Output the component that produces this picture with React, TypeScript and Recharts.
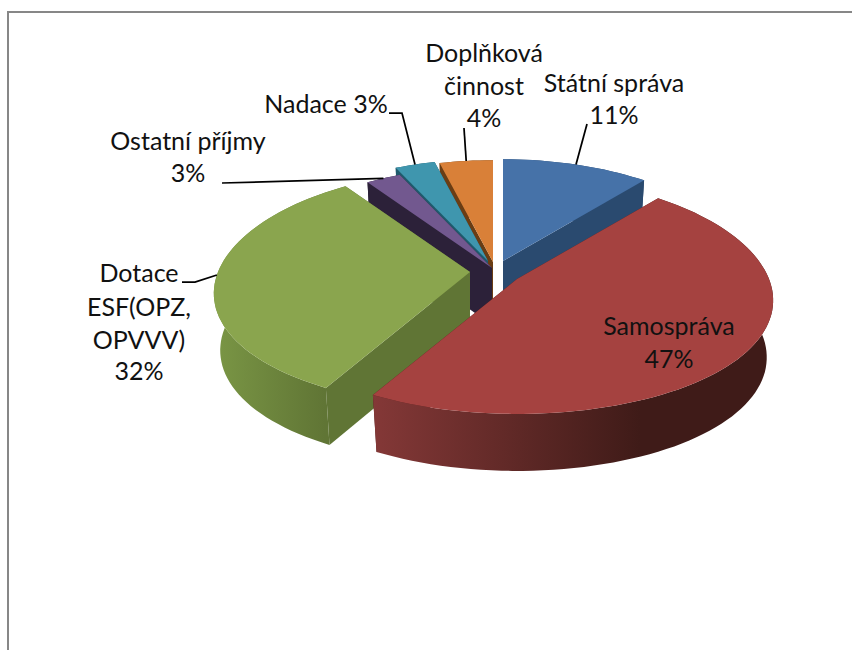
import React from 'react';
import { PieChart, Pie } from 'recharts';

// share of income per source, clockwise from 12 o'clock
const names = ['Státní správa', 'Samospráva', 'Dotace ESF(OPZ, OPVVV)', 'Ostatní příjmy', 'Nadace', 'Doplňková činnost'];
const shares = [11, 47, 32.4, 2.6, 3, 4];

const labelLines = [
  ['Státní správa', '11%'],
  ['Samospráva', '47%'],
  ['Dotace', 'ESF(OPZ,', 'OPVVV)', '32%'],
  ['Ostatní příjmy', '3%'],
  ['Nadace 3%'],
  ['Doplňková', 'činnost', '4%'],
];

const rows = names.map((name, i) => ({ name, value: shares[i] }));

const TOP = ['#4672a8', '#a54240', '#8aa54e', '#72588f', '#3f96ae', '#d98038'];
const WALL = ['#2a4a6f', '#4a1d1a', '#607535', '#2c2139', '#1f5a6c', '#6a3d14'];
const RIM_FROM = ['#2a4a6f', '#843837', '#7a9645', '#2c2139', '#1f5a6c', '#6a3d14'];
const RIM_TO = ['#2a4a6f', '#3f1b18', '#607535', '#2c2139', '#1f5a6c', '#6a3d14'];

// back to front
const PAINT_ORDER = [0, 5, 4, 3, 2, 1];

// projection of the tilted disc
const CX = 493;
const CY = 268;
const RX = 252;
const RY = 116;
const PERSP_X = 0.18;
const PERSP_Y = 0.14;
const DEPTH = 57;
const BASE_SHRINK = 0.975;

// how far each slice is pulled out
const EXPLODE = [[10, -7], [24, 11], [-23, 4], [-1, 0], [-5, -7], [0, -6]];

const LABEL_X = [
  [614, 614],
  [669, 669],
  [139, 139, 139, 139],
  [188, 188],
  [326],
  [484, 484, 484],
];
const LABEL_Y = [
  [92, 124],
  [335, 368],
  [282, 316, 349, 380],
  [150, 182],
  [113],
  [62, 95, 127],
];

// fixed end of each leader line, the other end sits on the slice edge
const LEADERS = [
  [[587, 124]],
  [],
  [[182, 282], [195, 282]],
  [[222, 183]],
  [[389, 113], [402, 113]],
  [[464, 128]],
];

// where along the slice's arc the leader lands
const LEADER_TIP = [0.5, 0, 0.512, 0.5, 0.5, 0.5];

const project = (deg: number, r: number, i: number) => {
  const t = (deg * Math.PI) / 180;
  const u = r * Math.sin(t);
  const v = r * Math.cos(t);
  return [
    CX + EXPLODE[i][0] + (RX * u) / (1 + PERSP_X * v),
    CY + EXPLODE[i][1] - (RY * v) / (1 + PERSP_Y * v),
  ];
};

const lower = ([x, y]: number[], i: number) => {
  const ax = CX + EXPLODE[i][0];
  return [ax + (x - ax) * BASE_SHRINK, y + DEPTH];
};

const arcPoints = (from: number, to: number, i: number) => {
  const out: number[][] = [];
  const steps = Math.max(4, Math.ceil(Math.abs(to - from) / 2));
  for (let s = 0; s <= steps; s++) out.push(project(from + ((to - from) * s) / steps, 1, i));
  return out;
};

const toPath = (pts: number[][]) =>
  'M' + pts.map((p) => `${p[0].toFixed(1)},${p[1].toFixed(1)}`).join('L') + 'Z';

const Slice3D = (props: any, paintIndex: number) => {
  const { index, startAngle, endAngle } = props;
  if (index !== paintIndex) return <g />;
  const from = 90 - startAngle;
  const to = 90 - endAngle;
  const arc = arcPoints(from, to, index);
  const apex = project(0, 0, index);
  const first = arc[0];
  const last = arc[arc.length - 1];
  const wall = (a: number[], b: number[]) => [a, b, lower(b, index), lower(a, index)];
  const walls = [wall(apex, first), wall(apex, last)].sort(
    (p, q) => p[0][1] + p[1][1] - (q[0][1] + q[1][1])
  );
  const rim = [...arc, ...arc.map((p) => lower(p, index)).reverse()];
  const xs = arc.map((p) => p[0]);
  const gradId = `rim-${index}`;
  return (
    <g>
      <defs>
        <linearGradient
          id={gradId}
          gradientUnits="userSpaceOnUse"
          x1={Math.min(...xs)}
          x2={index === 1 ? 640 : index === 2 ? 325 : Math.max(...xs)}
          y1={0}
          y2={0}
        >
          <stop offset="0%" stopColor={RIM_FROM[index]} />
          <stop offset="100%" stopColor={RIM_TO[index]} />
        </linearGradient>
      </defs>
      {walls.map((w, k) => (
        <path key={k} d={toPath(w)} fill={WALL[index]} />
      ))}
      <path d={toPath(rim)} fill={`url(#${gradId})`} />
      <path d={toPath([apex, ...arc])} fill={TOP[index]} />
    </g>
  );
};

const SliceLabel = (props: any) => {
  const { index, startAngle, endAngle } = props;
  const lines = labelLines[index];
  const from = 90 - startAngle;
  const to = 90 - endAngle;
  const tip = project(from + (to - from) * LEADER_TIP[index], 1, index);
  const leader = LEADERS[index];
  return (
    <g>
      {leader.length > 0 && (
        <polyline
          points={[...leader, tip].map((p) => p.join(',')).join(' ')}
          fill="none"
          stroke="#000"
          strokeWidth={1.75}
        />
      )}
      {lines.map((line, k) => (
        <text
          key={k}
          x={LABEL_X[index][k]}
          y={LABEL_Y[index][k]}
          textAnchor="middle"
          fill="#111"
          fontFamily="Lato, 'Open Sans', sans-serif"
          fontSize={25}
        >
          {line}
        </text>
      ))}
    </g>
  );
};

export default function App() {
  return (
    <div style={{ position: 'absolute', left: 0, top: 0, width: 852, height: 650, overflow: 'hidden', background: '#fff' }}>
      <div
        style={{
          position: 'absolute',
          left: 7,
          top: 11,
          width: 845,
          height: 639,
          borderLeft: '2px solid #878787',
          borderTop: '2px solid #878787',
          boxSizing: 'border-box',
        }}
      />
      <div style={{ position: 'absolute', left: 0, top: 0 }}>
        <PieChart width={852} height={650} margin={{ top: 0, right: 0, bottom: 0, left: 0 }}>
          {PAINT_ORDER.map((i, n) => (
            <Pie
              key={i}
              data={rows}
              dataKey="value"
              nameKey="name"
              cx={CX}
              cy={CY}
              outerRadius={RY}
              startAngle={90}
              endAngle={-270}
              stroke="none"
              isAnimationActive={false}
              shape={(p: any) => Slice3D(p, i)}
              label={n === PAINT_ORDER.length - 1 ? SliceLabel : false}
              labelLine={false}
            />
          ))}
        </PieChart>
      </div>
    </div>
  );
}
